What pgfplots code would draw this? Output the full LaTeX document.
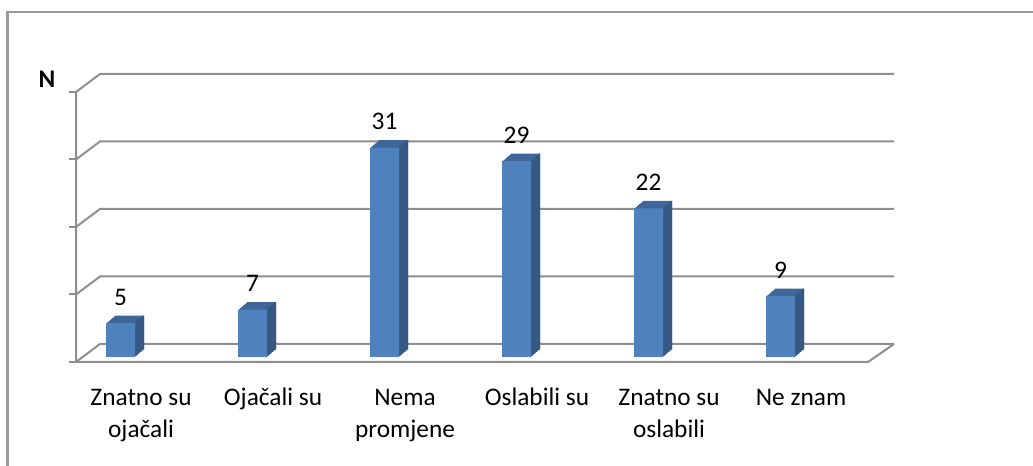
\documentclass[border=0pt]{standalone}
\usepackage{fontspec}
\setmainfont{Carlito}
\usepackage{pgfplots}
\pgfplotsset{compat=1.18}
\usepackage{pgfplotstable}
\definecolor{front}{HTML}{4F81BD}
\definecolor{side}{HTML}{365983}
\definecolor{topc}{HTML}{3E6699}
\definecolor{gridc}{HTML}{8E8E8E}
\definecolor{borderc}{HTML}{9A9A9A}
\pgfplotstableread{
x y
0 5
1 7
2 31
3 29
4 22
5 9
}\data
\begin{document}
\begin{tikzpicture}
\begin{scope}[x=0.75pt,y=-0.75pt]
\useasboundingbox (0,0) rectangle (1033,466);
% outer chart border
\draw[borderc, line width=1.6pt] (7.5,480) -- (7.5,12) -- (1045,12);
% 3D walls
\foreach \k in {0,1,2,3,4}{
  \draw[gridc, line width=1.5pt] (76,{362-67.5*\k}) -- (100,{344-67.5*\k}) -- (894,{344-67.5*\k});
  \draw[gridc, line width=1.5pt] (69,{362-67.5*\k}) -- (76,{362-67.5*\k});
}
\draw[gridc, line width=1.5pt] (76,92) -- (76,362) -- (868,362) -- (894,344);
\node[font=\fontsize{19}{22}\selectfont\bfseries] at (47,79) {N};
\end{scope}
\begin{axis}[
  anchor=origin, at={(90.375pt,-267.75pt)},
  x=99pt, y=5.0625pt,
  xmin=-0.5, xmax=5.5, ymin=0, ymax=40,
  clip=false,
  axis line style={draw=none},
  major tick length=0pt,
  ytick=\empty,
  xtick={0,1,2,3,4,5},
  xticklabels={{\strut Znatno su\\ojačali},{\strut Ojačali su},{\strut Nema\\promjene},{\strut Oslabili su},{\strut Znatno su\\oslabili},{\strut Ne znam}},
  xticklabel style={align=center, anchor=north, inner sep=0pt, xshift=15.4pt, yshift=-19.2pt, font=\fontsize{19}{24}\selectfont},
  /pgf/number format/assume math mode=true,
]
\pgfplotsinvokeforeach{1,...,9}{
  \addplot[ybar, bar width=0.2197, bar shift=0pt, fill=topc, draw=none,
    xshift=#1*0.75pt, yshift=#1*0.64pt] table[x=x,y=y]{\data};
}
\pgfplotsinvokeforeach{1,...,9}{
  \addplot[ybar, bar width=0.8pt, bar shift={(14+#1)*0.75pt}, fill=side, draw=none,
    yshift=#1*0.64pt] table[x=x,y=y]{\data};
}
\addplot[ybar, bar width=0.2197, bar shift=0pt, fill=front, draw=none,
  nodes near coords,
  every node near coord/.append style={anchor=base, yshift=13.5pt, inner sep=0pt, font=\fontsize{19}{23}\selectfont, text=black}
] table[x=x,y=y]{\data};
\end{axis}
\end{tikzpicture}
\end{document}
